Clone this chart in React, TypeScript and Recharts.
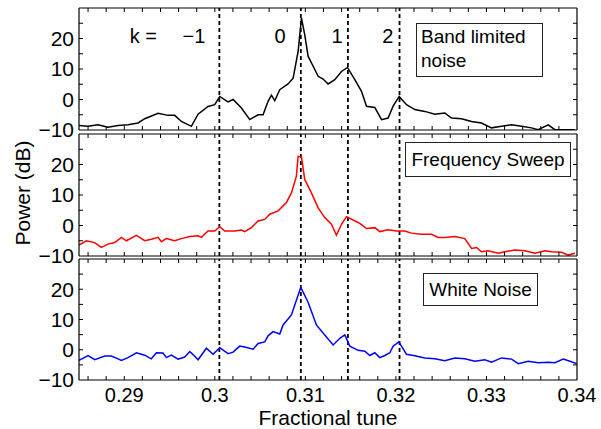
import React from 'react';
import { LineChart, Line, XAxis, YAxis, ReferenceLine, ReferenceDot } from 'recharts';

// band limited noise (black)
const bandTune = [0.285, 0.286, 0.2871, 0.2882, 0.28931, 0.29041, 0.29152, 0.29226, 0.29373, 0.29483, 0.29557, 0.29631, 0.29741, 0.29815, 0.29925, 0.29999, 0.30054, 0.30146, 0.30202, 0.30294, 0.30386, 0.30478, 0.30533, 0.30588, 0.30625, 0.30662, 0.30717, 0.30809, 0.30865, 0.3092, 0.30957, 0.30993, 0.3103, 0.31086, 0.31141, 0.31196, 0.31251, 0.31325, 0.31399, 0.31465, 0.31546, 0.3162, 0.31675, 0.31767, 0.31841, 0.31914, 0.31969, 0.32036, 0.32117, 0.32209, 0.32319, 0.3243, 0.3254, 0.32614, 0.32724, 0.32835, 0.32945, 0.33056, 0.33166, 0.33277, 0.33387, 0.33498, 0.33571, 0.33682, 0.33756, 0.33866, 0.33977];
const bandPower = [-8.5, -8.8, -8.3, -9.1, -8.5, -8.3, -7.7, -6.3, -4.5, -5.2, -5.2, -7.2, -8.8, -4.8, -2.3, -1.7, 1.0, -0.8, 0, -2.8, -6.6, -5.0, -5.0, -0.6, 1.4, -0.4, 3.2, 5.1, 7.0, 15.8, 26.7, 21.3, 14.2, 10.9, 7.6, 6.7, 5.1, 6.5, 9.2, 10.5, 6.5, 2.7, -2.2, -2.6, -6.6, -6.1, -2.2, 1.0, -1.7, -3.3, -3.9, -4.8, -4.4, -6.1, -6.3, -7.2, -7.7, -9.3, -8.8, -8.3, -8.8, -9.3, -9.9, -8.3, -9.9, -9.9, -9.9];

// frequency sweep (red)
const sweepTune = [0.285, 0.28581, 0.28673, 0.28747, 0.2882, 0.28894, 0.28968, 0.29023, 0.29134, 0.29226, 0.29299, 0.29373, 0.2941, 0.29465, 0.29557, 0.29631, 0.29723, 0.29815, 0.29852, 0.29925, 0.29999, 0.30054, 0.30109, 0.3022, 0.30294, 0.3033, 0.30404, 0.30478, 0.30551, 0.30607, 0.30699, 0.30791, 0.30846, 0.30901, 0.3092, 0.30957, 0.30993, 0.31067, 0.31141, 0.31214, 0.31288, 0.31343, 0.31399, 0.31454, 0.31528, 0.31601, 0.31675, 0.31767, 0.31822, 0.31914, 0.32006, 0.32098, 0.32172, 0.32282, 0.32393, 0.32467, 0.3254, 0.32651, 0.32761, 0.32835, 0.3289, 0.32945, 0.33019, 0.3313, 0.33203, 0.33314, 0.33424, 0.33535, 0.33645, 0.33719, 0.33829, 0.33903, 0.33977];
const sweepPower = [-6.4, -5.0, -5.6, -7.2, -6.1, -5.6, -3.9, -5.0, -3.2, -5.0, -4.5, -3.9, -5.3, -4.3, -5.0, -4.3, -3.6, -3.4, -3.9, -1.8, -1.8, -0.4, -1.8, -1.8, -1.5, -2.0, -0.7, 1.5, 2.0, 3.7, 4.8, 7.5, 10.7, 16.2, 22.7, 22.5, 15.1, 10.7, 5.8, 2.6, 0.4, -3.2, 0.4, 2.9, 1.8, 0.7, -1.0, -0.7, -2.0, -1.4, -1.8, -1.8, -2.5, -2.9, -2.9, -3.9, -3.9, -3.6, -4.3, -7.5, -7.2, -8.6, -8.3, -9.1, -8.6, -8.0, -8.3, -9.1, -8.3, -8.6, -8.8, -9.7, -9.1];

// white noise (blue)
const whiteTune = [0.285, 0.286, 0.28673, 0.28784, 0.28857, 0.28931, 0.28968, 0.29041, 0.29134, 0.29226, 0.29299, 0.29355, 0.29428, 0.29465, 0.2952, 0.29594, 0.29668, 0.29723, 0.2976, 0.29815, 0.29907, 0.29981, 0.30054, 0.30146, 0.30202, 0.30275, 0.3033, 0.30423, 0.30478, 0.30551, 0.30588, 0.30643, 0.30717, 0.30754, 0.30846, 0.30949, 0.3103, 0.31122, 0.31214, 0.31307, 0.3138, 0.31436, 0.31491, 0.31583, 0.31657, 0.31712, 0.31767, 0.31822, 0.31878, 0.31933, 0.31969, 0.32032, 0.32117, 0.32209, 0.32319, 0.3243, 0.3254, 0.32651, 0.32761, 0.32872, 0.32982, 0.33056, 0.33166, 0.33277, 0.33351, 0.33461, 0.33572, 0.33682, 0.33756, 0.33848, 0.33922, 0.33996];
const whitePower = [-3.5, -1.9, -3.3, -2.1, -2.1, -3.0, -3.5, -2.6, -1.0, -1.8, -3.0, -1.0, -1.1, -2.6, -1.8, -3.1, -2.4, -0.6, -1.6, -3.3, 0.5, -1.5, 0.7, -1.3, -0.8, 1.2, 0.9, 0.2, 2.1, 2.6, 4.6, 6.0, 5.2, 8.2, 11.5, 20.6, 15.7, 8.2, 4.9, 1.6, 3.8, 4.9, 1.2, -0.2, -0.5, -1.9, -1.0, -2.6, -1.9, -1.0, 1.2, 2.6, -1.5, -2.0, -2.7, -3.0, -3.6, -2.7, -3.0, -3.8, -3.3, -4.1, -2.7, -3.1, -4.6, -3.8, -4.3, -4.1, -4.3, -3.1, -3.8, -4.6];

const dashedTunes = [0.3005, 0.3095, 0.3147, 0.3204];
const kLabels = ['k =', '\u22121', '0', '1', '2'];
const kTunes = [0.2921, 0.2977, 0.3072, 0.3135, 0.3191];

const xTickLabels = [0.29, 0.3, 0.31, 0.32, 0.33, 0.34];
const xMinorTicks = [0.286, 0.288, 0.29, 0.292, 0.294, 0.296, 0.298, 0.3, 0.302, 0.304, 0.306, 0.308, 0.31, 0.312, 0.314, 0.316, 0.318, 0.32, 0.322, 0.324, 0.326, 0.328, 0.33, 0.332, 0.334, 0.336, 0.338];
const yTickLabels = [-10, 0, 10, 20];
const yMinorTicks = [-5, 0, 5, 10, 15, 20, 25];

const FONT = '"Liberation Sans", Arial, Helvetica, sans-serif';
const X_DOMAIN = [0.285, 0.34];
const Y_DOMAIN = [-10, 30];
const PAD = 12; // room above/below each plot for edge tick labels

const minus = (v: number) => (v < 0 ? '\u2212' + Math.abs(v) : String(v));
const noLabel = () => <g />;

interface PanelProps {
  top: number;
  plotH: number;
  tune: number[];
  power: number[];
  color: string;
  bottomLabels?: boolean;
  showK?: boolean;
}

function Panel({ top, plotH, tune, power, color, bottomLabels = false, showK = false }: PanelProps) {
  const data = tune.map((t, i) => ({ tune: t, power: power[i] }));
  const h = PAD + plotH + (bottomLabels ? 34 : PAD);
  const edge = { stroke: '#000', strokeWidth: 1.2 };
  const tl = { stroke: '#000', strokeWidth: 1 };

  return (
    <div style={{ position: 'absolute', left: 0, top: top - PAD }}>
      <LineChart width={601} height={h} data={data}
        margin={{ top: PAD, right: 24, bottom: bottomLabels ? 0 : PAD, left: 0 }}>
        <XAxis xAxisId="b" type="number" dataKey="tune" domain={X_DOMAIN} ticks={xMinorTicks} orientation="bottom"
          mirror height={1} tick={noLabel} tickSize={4} interval={0} axisLine={edge} tickLine={tl} allowDataOverflow />
        <XAxis xAxisId="t" type="number" dataKey="tune" domain={X_DOMAIN} ticks={xMinorTicks} orientation="top"
          mirror height={1} tick={noLabel} tickSize={4} interval={0} axisLine={edge} tickLine={tl} allowDataOverflow />
        {bottomLabels && (
          <XAxis xAxisId="lbl" type="number" dataKey="tune" domain={X_DOMAIN} ticks={xTickLabels} orientation="bottom"
            height={34} tickLine={false} axisLine={false} tickSize={4} tickMargin={4} interval={0} allowDataOverflow
            tick={{ fontSize: 20, fill: '#000', fontFamily: FONT }} />
        )}
        <YAxis yAxisId="lbl" type="number" domain={Y_DOMAIN} ticks={yTickLabels} width={79} tickLine={false}
          axisLine={false} tickSize={2} tickMargin={3} interval={0} tickFormatter={minus} allowDataOverflow
          tick={{ fontSize: 21, fill: '#000', fontFamily: FONT }} />
        <YAxis yAxisId="ml" type="number" domain={Y_DOMAIN} ticks={yMinorTicks} orientation="left" mirror width={1}
          tick={noLabel} tickSize={4} interval={0} axisLine={edge} tickLine={tl} allowDataOverflow />
        <YAxis yAxisId="mr" type="number" domain={Y_DOMAIN} ticks={yMinorTicks} orientation="right" mirror width={1}
          tick={noLabel} tickSize={4} interval={0} axisLine={edge} tickLine={tl} allowDataOverflow />
        {dashedTunes.map((x) => (
          <ReferenceLine key={x} xAxisId="b" yAxisId="lbl" x={x} stroke="#000" strokeWidth={1.8} strokeDasharray="4 3" />
        ))}
        {showK && kLabels.map((k, i) => (
          <ReferenceDot key={k} xAxisId="b" yAxisId="lbl" x={kTunes[i]} y={21} r={0} fill="none" stroke="none"
            label={{ value: k, position: 'center', fontSize: 20, fill: '#000', fontFamily: FONT }} />
        ))}
        <Line xAxisId="b" yAxisId="lbl" type="linear" dataKey="power" stroke={color} strokeWidth={1.5}
          dot={false} isAnimationActive={false} />
      </LineChart>
    </div>
  );
}

const boxStyle: React.CSSProperties = {
  position: 'absolute',
  boxSizing: 'border-box',
  border: '1px solid #222',
  background: '#fff',
  fontSize: 19,
  fontFamily: FONT,
  color: '#000',
  whiteSpace: 'nowrap',
};

export default function App() {
  return (
    <div style={{ position: 'absolute', left: 0, top: 0, width: 601, height: 429, background: '#fff', fontFamily: FONT }}>
      <Panel top={8} plotH={122} tune={bandTune} power={bandPower} color="#000" showK />
      <Panel top={134} plotH={122} tune={sweepTune} power={sweepPower} color="#ff0000" />
      <Panel top={259} plotH={121} tune={whiteTune} power={whitePower} color="#0000ff" bottomLabels />

      <div style={{ ...boxStyle, left: 416, top: 23, width: 127, height: 54, padding: '1px 0 0 4px', lineHeight: '24px' }}>
        Band limited<br />noise
      </div>
      <div style={{ ...boxStyle, left: 405, top: 142, width: 166, height: 35, lineHeight: '33px', textAlign: 'center' }}>
        Frequency Sweep
      </div>
      <div style={{ ...boxStyle, left: 423, top: 273, width: 115, height: 33, lineHeight: '31px', textAlign: 'center' }}>
        White Noise
      </div>

      <div style={{ position: 'absolute', left: 328, top: 417, transform: 'translate(-50%, -50%)', fontSize: 21, lineHeight: 1, whiteSpace: 'nowrap' }}>
        Fractional tune
      </div>
      <div style={{ position: 'absolute', left: 22, top: 193, transform: 'translate(-50%, -50%) rotate(-90deg)', fontSize: 21, lineHeight: 1, whiteSpace: 'nowrap' }}>
        Power (dB)
      </div>
    </div>
  );
}
